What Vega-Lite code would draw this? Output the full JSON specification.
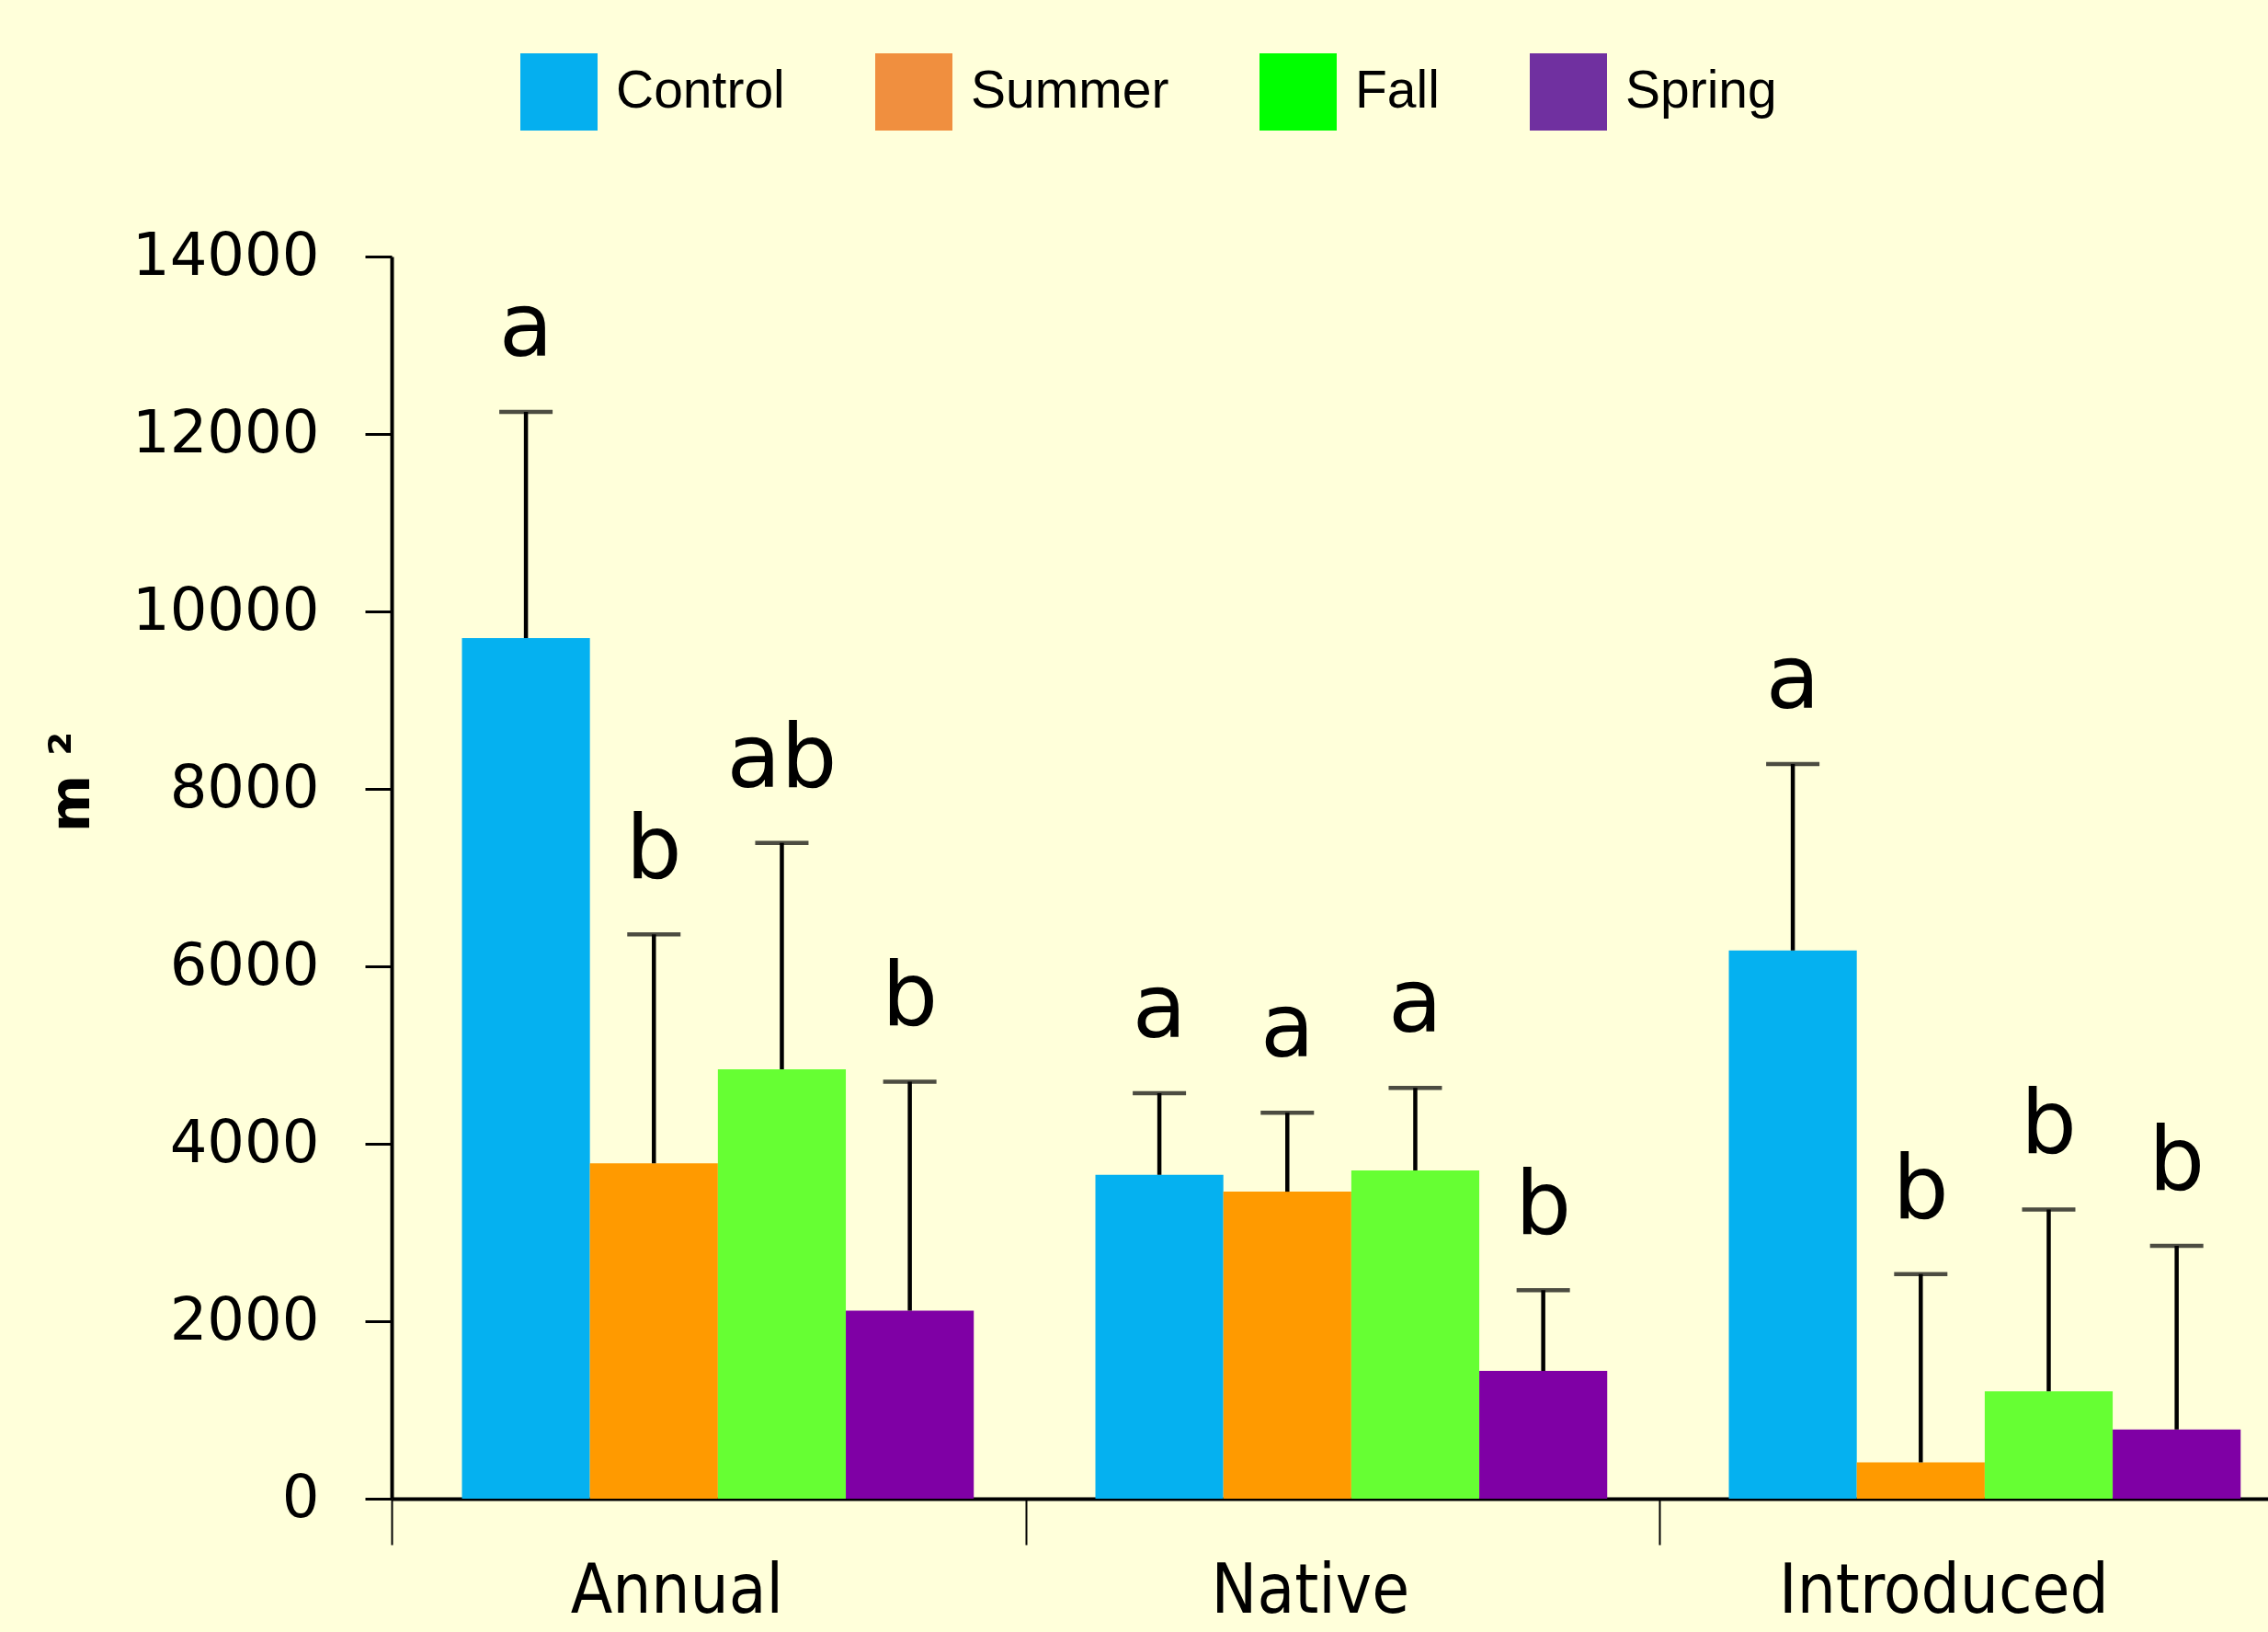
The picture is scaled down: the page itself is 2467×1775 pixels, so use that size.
{
  "$schema": "https://vega.github.io/schema/vega-lite/v6.json",
  "width": 2041,
  "height": 1351,
  "autosize": {"type": "none"},
  "padding": {"left": 426, "top": 279, "right": 0, "bottom": 145},
  "background": "#FFFFDA",
  "config": {"view": {"stroke": null}, "font": "DejaVu Sans"},
  "data": {
    "values": [
      {"type": "Annual", "treatment": "Control", "value": 9700, "err": 12250, "letter": "a"},
      {"type": "Annual", "treatment": "Summer", "value": 3780, "err": 6360, "letter": "b"},
      {"type": "Annual", "treatment": "Fall", "value": 4840, "err": 7390, "letter": "ab"},
      {"type": "Annual", "treatment": "Spring", "value": 2120, "err": 4700, "letter": "b"},
      {"type": "Native", "treatment": "Control", "value": 3650, "err": 4570, "letter": "a"},
      {"type": "Native", "treatment": "Summer", "value": 3460, "err": 4350, "letter": "a"},
      {"type": "Native", "treatment": "Fall", "value": 3700, "err": 4630, "letter": "a"},
      {"type": "Native", "treatment": "Spring", "value": 1440, "err": 2350, "letter": "b"},
      {"type": "Introduced", "treatment": "Control", "value": 6180, "err": 8280, "letter": "a"},
      {"type": "Introduced", "treatment": "Summer", "value": 410, "err": 2530, "letter": "b"},
      {"type": "Introduced", "treatment": "Fall", "value": 1210, "err": 3260, "letter": "b"},
      {"type": "Introduced", "treatment": "Spring", "value": 780, "err": 2850, "letter": "b"}
    ]
  },
  "encoding": {
    "x": {
      "field": "type",
      "type": "nominal",
      "sort": ["Annual", "Native", "Introduced"],
      "scale": {"paddingInner": 0.192, "paddingOuter": 0.0771, "align": 0.72},
      "axis": {
        "title": null,
        "labelAngle": 0,
        "bandPosition": 0,
        "tickExtra": false,
        "tickOffset": -76,
        "domainColor": "black",
        "domainWidth": 4,
        "tickColor": "black",
        "tickWidth": 2,
        "tickSize": 50,
        "labelFont": "DejaVu Sans Condensed, Liberation Sans Narrow, DejaVu Sans",
        "labelFontSize": 74,
        "labelColor": "black",
        "labelPadding": 15,
        "labelOffset": 31,
        "labelLimit": 0,
        "labelBaseline": "top"
      }
    },
    "xOffset": {
      "field": "treatment",
      "type": "nominal",
      "sort": ["Control", "Summer", "Fall", "Spring"],
      "scale": {"paddingInner": 0, "paddingOuter": 0}
    }
  },
  "layer": [
    {
      "mark": {"type": "bar"},
      "encoding": {
        "y": {
          "field": "value",
          "type": "quantitative",
          "title": "m ²",
          "scale": {"domain": [0, 14000], "nice": false},
          "axis": {
            "values": [0, 2000, 4000, 6000, 8000, 10000, 12000, 14000],
            "format": "d",
            "grid": false,
            "domainColor": "black",
            "domainWidth": 4,
            "tickColor": "black",
            "tickWidth": 3,
            "tickSize": 29,
            "labelFont": "DejaVu Sans",
            "labelFontSize": 64,
            "labelColor": "black",
            "labelPadding": 50,
            "labelLimit": 0,
            "titleFont": "DejaVu Sans",
            "titleFontWeight": "bold",
            "titleFontSize": 60,
            "titleColor": "black",
            "titleX": -348,
            "titleY": 571,
            "titleAlign": "center",
            "titleBaseline": "middle",
            "titleAngle": -90
          }
        },
        "color": {
          "field": "treatment",
          "type": "nominal",
          "sort": ["Control", "Summer", "Fall", "Spring"],
          "scale": {
            "range": ["#05B1F0", "#FF9A00", "#66FF33", "#7F00A5"]
          },
          "legend": null
        }
      }
    },
    {
      "mark": {"type": "rule", "color": "black", "strokeWidth": 4.5},
      "encoding": {
        "y": {"field": "value", "type": "quantitative", "title": "m ²"},
        "y2": {"field": "err"}
      }
    },
    {
      "mark": {"type": "tick", "color": "black", "thickness": 4.5, "size": 58},
      "encoding": {
        "y": {"field": "err", "type": "quantitative", "title": "m ²"}
      }
    },
    {
      "mark": {"type": "text", "font": "DejaVu Sans", "fontSize": 96, "dy": -61, "baseline": "alphabetic", "color": "black"},
      "encoding": {
        "y": {"field": "err", "type": "quantitative", "title": "m ²"},
        "text": {"field": "letter"}
      }
    },
    {
      "mark": {"type": "square", "opacity": 0},
      "encoding": {
        "fill": {
          "field": "treatment",
          "type": "nominal",
          "scale": {
            "domain": ["Control", "Summer", "Fall", "Spring"],
            "range": ["#05AFEF", "#F08F3F", "#00FF00", "#7030A0"]
          },
          "legend": {
            "title": null,
            "orient": "none",
            "direction": "horizontal",
            "legendX": 140,
            "legendY": -221,
            "padding": 0,
            "symbolType": "square",
            "symbolSize": 7056,
            "symbolStrokeWidth": 0,
            "symbolOpacity": 1,
            "labelFont": "Liberation Sans",
            "labelFontSize": 57,
            "labelColor": "black",
            "labelOffset": 20,
            "labelLimit": 0,
            "columnPadding": 98
          }
        }
      }
    }
  ]
}
